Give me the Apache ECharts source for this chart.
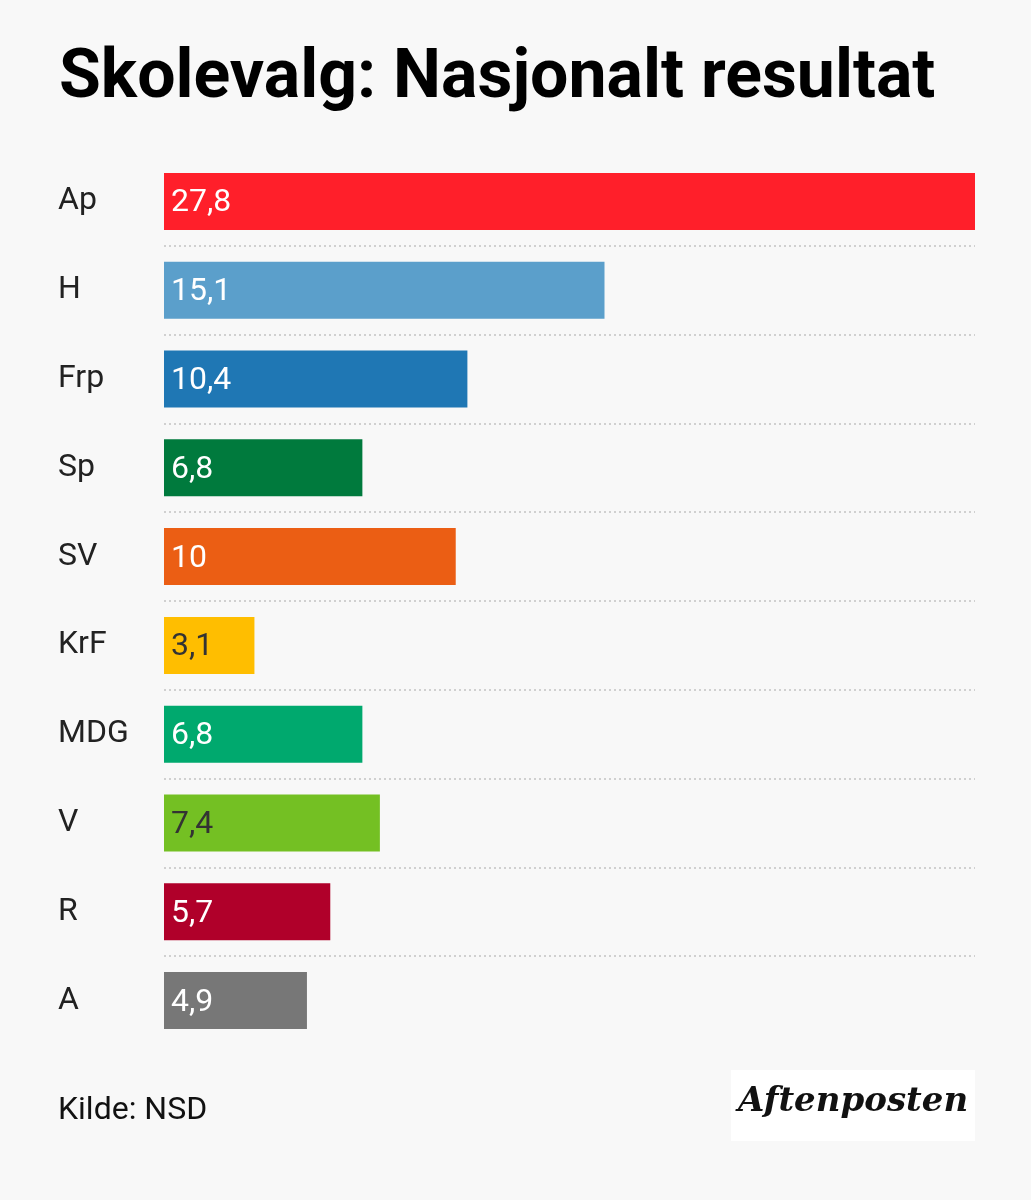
<!DOCTYPE html>
<html><head><meta charset="utf-8">
<script src="https://cdn.jsdelivr.net/npm/echarts@6/dist/echarts.min.js"></script>
<style>html,body{margin:0;padding:0;background:#f8f8f8}#c{width:1031px;height:1200px}</style>
</head><body><div id="c"></div>
<script>
const categories = ['Ap','H','Frp','Sp','SV','KrF','MDG','V','R','A'];
const values = [27.8,15.1,10.4,6.8,10,3.1,6.8,7.4,5.7,4.9];
const colors = ['#ff1f2a','#5b9fcb','#1f77b4','#007a3d','#eb5e14','#ffbe00','#00a96e','#74c023','#b0002a','#777777'];
const labelColors = ['#fff','#fff','#fff','#fff','#fff','#333','#fff','#333','#fff','#fff'];
const chart = echarts.init(document.getElementById('c'));
chart.setOption({
  backgroundColor:'#f8f8f8',
  animation:false,
  title:{text:'Skolevalg: Nasjonalt resultat',left:54,top:41,textStyle:{fontFamily:'Roboto',fontWeight:'bold',fontSize:68,color:'#000'}},
  grid:{left:164,right:56,top:157,bottom:155},
  xAxis:{type:'value',min:0,max:27.8,show:false},
  yAxis:{type:'category',inverse:true,data:categories,
    axisLine:{show:false},axisTick:{show:false},
    axisLabel:{margin:106,align:'left',fontFamily:'Roboto',fontSize:32,color:'#222',padding:[4,0,0,0]},
    splitLine:{show:true,interval:0,lineStyle:{color:'#d0d0d0',width:2,type:[2,3]}}},
  series:[{type:'bar',barWidth:57,
    data:values.map((v,i)=>({value:v,itemStyle:{color:colors[i]},label:{color:labelColors[i]}})),
    label:{show:true,position:'insideLeft',offset:[2,2],fontFamily:'Roboto',fontSize:32,
      formatter:p=>String(p.value).replace('.',',')}}],
  graphic:[
    {type:'rect',left:0,top:155,shape:{width:1031,height:4},style:{fill:'#f8f8f8'},z:100},
    {type:'rect',left:0,top:1040,shape:{width:1031,height:10},style:{fill:'#f8f8f8'},z:100},
    {type:'text',left:58,top:1095,style:{text:'Kilde: NSD',font:'32px Roboto',fill:'#111'}},
    {type:'rect',left:731,top:1070,shape:{width:244,height:71},style:{fill:'#fff'}},
    {type:'text',left:738,top:1085,style:{text:'Aftenposten',font:'bold italic 34px "DejaVu Serif"',fill:'#111'}}
  ]
});
</script></body></html>
